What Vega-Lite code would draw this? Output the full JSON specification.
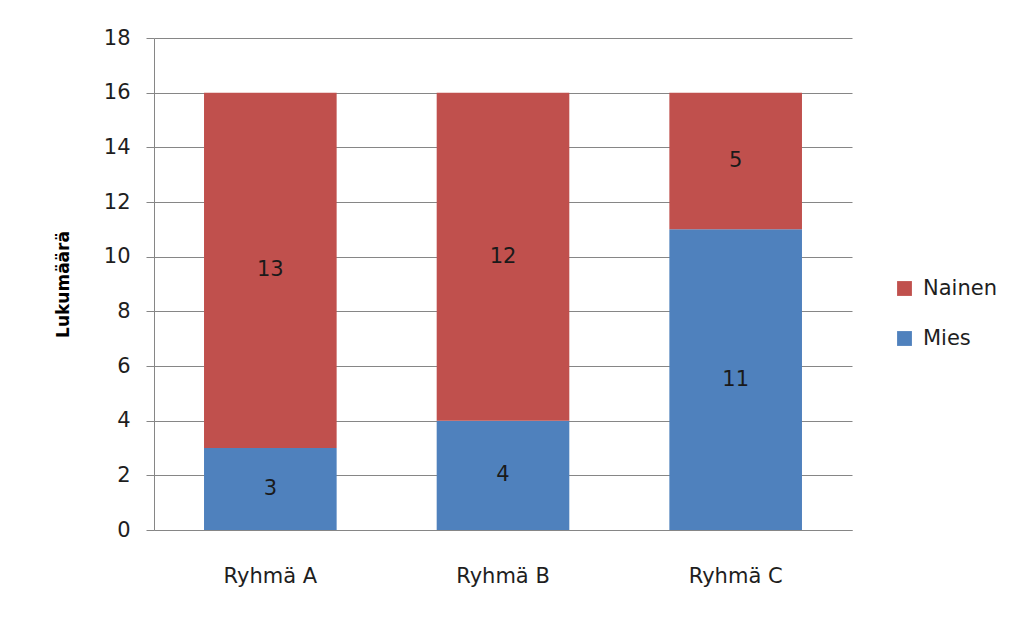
{
  "$schema": "https://vega.github.io/schema/vega-lite/v6.json",
  "width": 698,
  "height": 492,
  "autosize": {"type": "none"},
  "padding": {"left": 154, "top": 38, "right": 173, "bottom": 87},
  "background": "white",
  "config": {
    "font": "DejaVu Sans",
    "view": {"stroke": null},
    "axis": {
      "labelFont": "DejaVu Sans",
      "labelFontSize": 21,
      "labelColor": "#1e1e1e",
      "domainColor": "#868686",
      "tickColor": "#868686",
      "gridColor": "#868686",
      "gridOpacity": 1,
      "domainWidth": 1,
      "tickWidth": 1,
      "gridWidth": 1
    }
  },
  "data": {
    "values": [
      {"ryhma": "Ryhmä A", "sukupuoli": "Mies", "lukumaara": 3},
      {"ryhma": "Ryhmä A", "sukupuoli": "Nainen", "lukumaara": 13},
      {"ryhma": "Ryhmä B", "sukupuoli": "Mies", "lukumaara": 4},
      {"ryhma": "Ryhmä B", "sukupuoli": "Nainen", "lukumaara": 12},
      {"ryhma": "Ryhmä C", "sukupuoli": "Mies", "lukumaara": 11},
      {"ryhma": "Ryhmä C", "sukupuoli": "Nainen", "lukumaara": 5}
    ]
  },
  "transform": [
    {
      "stack": "lukumaara",
      "groupby": ["ryhma"],
      "sort": [{"field": "sukupuoli", "order": "ascending"}],
      "as": ["ala", "yla"]
    }
  ],
  "encoding": {
    "x": {
      "field": "ryhma",
      "type": "nominal",
      "title": null,
      "scale": {"paddingInner": 0.43, "paddingOuter": 0.215},
      "axis": {
        "labelAngle": 0,
        "ticks": false,
        "labelPadding": 35,
        "domain": true
      }
    }
  },
  "layer": [
    {
      "mark": {"type": "bar"},
      "encoding": {
        "y": {
          "field": "ala",
          "type": "quantitative",
          "title": "Lukumäärä",
          "scale": {"domain": [0, 18], "nice": false},
          "axis": {
            "values": [0, 2, 4, 6, 8, 10, 12, 14, 16, 18],
            "grid": true,
            "tickSize": 8,
            "labelPadding": 16,
            "titleFont": "DejaVu Sans",
            "titleFontSize": 17,
            "titleFontWeight": "bold",
            "titleColor": "#000000",
            "titleAngle": -90,
            "titleAlign": "center",
            "titleBaseline": "middle",
            "titleX": -91,
            "titleY": 246
          }
        },
        "y2": {"field": "yla"},
        "color": {
          "field": "sukupuoli",
          "type": "nominal",
          "title": null,
          "scale": {
            "domain": ["Nainen", "Mies"],
            "range": ["#C0504D", "#4F81BD"]
          },
          "legend": {
            "orient": "none",
            "legendX": 740,
            "legendY": 240,
            "symbolType": "square",
            "symbolSize": 220,
            "symbolStrokeWidth": 0,
            "labelFont": "DejaVu Sans",
            "labelFontSize": 21,
            "labelColor": "#1e1e1e",
            "labelOffset": 8,
            "rowPadding": 28
          }
        }
      }
    },
    {
      "transform": [
        {"fold": ["ala", "yla"], "as": ["reuna", "arvo"]},
        {
          "aggregate": [
            {"op": "mean", "field": "arvo", "as": "keski"},
            {"op": "max", "field": "lukumaara", "as": "maara"}
          ],
          "groupby": ["ryhma", "sukupuoli"]
        }
      ],
      "mark": {
        "type": "text",
        "font": "DejaVu Sans",
        "fontSize": 21,
        "color": "#1a1a1a",
        "baseline": "middle",
        "align": "center"
      },
      "encoding": {
        "y": {"field": "keski", "type": "quantitative"},
        "text": {"field": "maara", "type": "quantitative"}
      }
    }
  ]
}
